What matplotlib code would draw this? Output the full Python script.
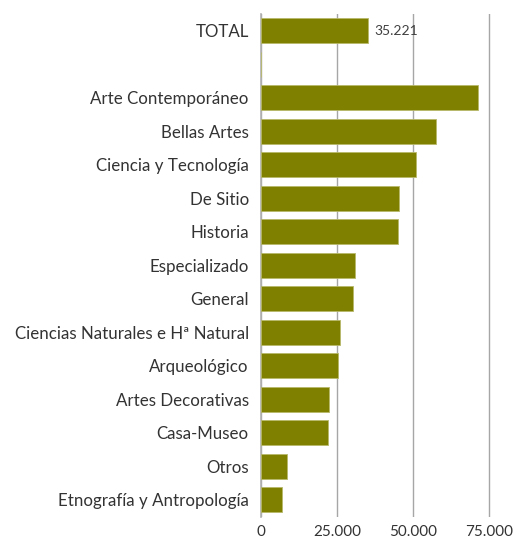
import matplotlib
matplotlib.use("Agg")
import matplotlib.pyplot as plt
from matplotlib.ticker import FuncFormatter

# datos (visitantes por tipo de museo)
categorias = [
    "TOTAL",
    "",
    "Arte Contemporáneo",
    "Bellas Artes",
    "Ciencia y Tecnología",
    "De Sitio",
    "Historia",
    "Especializado",
    "General",
    "Ciencias Naturales e Hª Natural",
    "Arqueológico",
    "Artes Decorativas",
    "Casa-Museo",
    "Otros",
    "Etnografía y Antropología",
]
valores = [35221, 0, 71400, 57600, 51100, 45300, 45000, 30900, 30250,
           25850, 25300, 22200, 21900, 8400, 6850]
ticks_x = [0, 25000, 50000, 75000]

plt.rcParams["font.family"] = ["Lato", "DejaVu Sans"]

fig = plt.figure(figsize=(5.16, 5.39), dpi=100)
ax = fig.add_axes([0.5064, 0.0414, 0.4936, 0.9326])

pos = list(range(len(categorias)))
ax.barh(pos, valores, height=0.75, color="#808000", edgecolor="#b8b86a",
        linewidth=0.6, zorder=3)

ax.text(valores[0] + 2000, 0, "35.221", va="center", ha="left",
        fontsize=10, color="#404040")

ax.set_ylim(len(categorias) - 0.5, -0.5)
ax.set_xlim(0, 84000)
ax.set_yticks(pos)
ax.set_yticklabels(categorias, fontsize=12.2, color="#333333")
ax.set_xticks(ticks_x)
ax.xaxis.set_major_formatter(
    FuncFormatter(lambda v, _: f"{int(v):,}".replace(",", ".")))
ax.tick_params(axis="x", labelsize=11, colors="#333333", length=0, pad=6)
ax.tick_params(axis="y", length=0, pad=9)

ax.grid(axis="x", color="#a6a6a6", linewidth=1.0, zorder=0)
for s in ["top", "right", "bottom"]:
    ax.spines[s].set_visible(False)
ax.spines["left"].set_color("#b0b0b0")
ax.spines["left"].set_linewidth(1.2)

fig.savefig("out.png", dpi=100)
